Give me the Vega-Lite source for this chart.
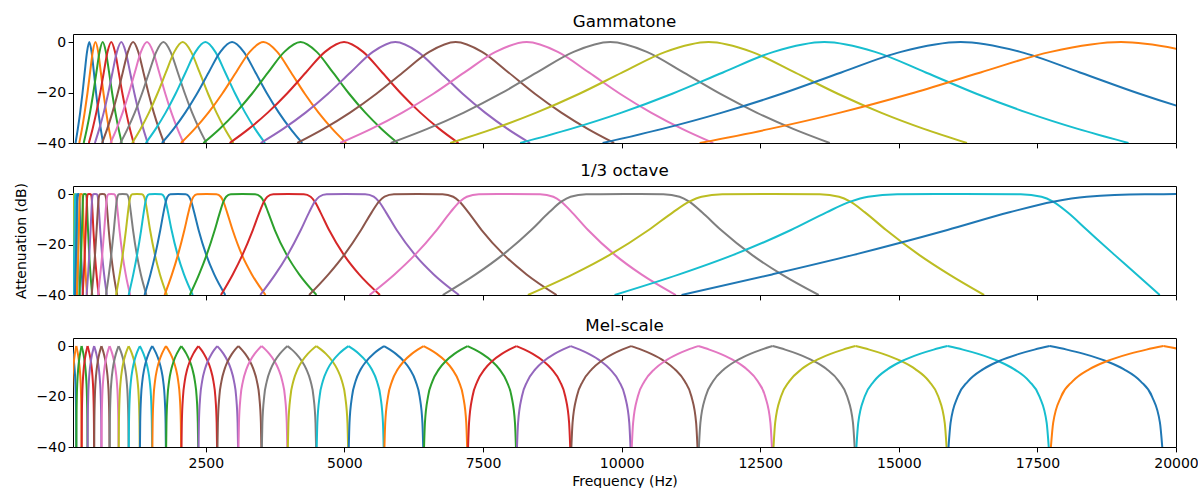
{
"$schema":"https://vega.github.io/schema/vega-lite/v6.json",
"background":"white",
"padding":{"left":13,"top":13,"right":0,"bottom":0},
"bounds":"flush",
"spacing":43,
"datasets":{
"g":[
{"c":1,"f":151,"y":-40},{"c":1,"f":192,"y":-34.41},{"c":1,"f":234,"y":-27.96},{"c":1,"f":275,"y":-20.48},{"c":1,"f":316,"y":-12.04},{"c":1,"f":358,"y":-3.88},{"c":1,"f":399,"y":0},{"c":1,"f":440,"y":-3.88},{"c":1,"f":482,"y":-12.04},{"c":1,"f":523,"y":-20.48},{"c":1,"f":564,"y":-27.96},{"c":1,"f":606,"y":-34.41},{"c":1,"f":647,"y":-40},
{"c":2,"f":218,"y":-40},{"c":2,"f":267,"y":-34.41},{"c":2,"f":315,"y":-27.96},{"c":2,"f":364,"y":-20.48},{"c":2,"f":413,"y":-12.04},{"c":2,"f":461,"y":-3.88},{"c":2,"f":510,"y":0},{"c":2,"f":559,"y":-3.88},{"c":2,"f":607,"y":-12.04},{"c":2,"f":656,"y":-20.48},{"c":2,"f":705,"y":-27.96},{"c":2,"f":753,"y":-34.41},{"c":2,"f":802,"y":-40},
{"c":3,"f":298,"y":-40},{"c":3,"f":355,"y":-34.41},{"c":3,"f":412,"y":-27.96},{"c":3,"f":469,"y":-20.48},{"c":3,"f":527,"y":-12.04},{"c":3,"f":584,"y":-3.88},{"c":3,"f":641,"y":0},{"c":3,"f":698,"y":-3.88},{"c":3,"f":756,"y":-12.04},{"c":3,"f":813,"y":-20.48},{"c":3,"f":870,"y":-27.96},{"c":3,"f":927,"y":-34.41},{"c":3,"f":985,"y":-40},
{"c":4,"f":391,"y":-40},{"c":4,"f":458,"y":-34.41},{"c":4,"f":525,"y":-27.96},{"c":4,"f":593,"y":-20.48},{"c":4,"f":660,"y":-12.04},{"c":4,"f":728,"y":-3.88},{"c":4,"f":795,"y":0},{"c":4,"f":862,"y":-3.88},{"c":4,"f":930,"y":-12.04},{"c":4,"f":997,"y":-20.48},{"c":4,"f":1065,"y":-27.96},{"c":4,"f":1132,"y":-34.41},{"c":4,"f":1199,"y":-40},
{"c":5,"f":500,"y":-40},{"c":5,"f":579,"y":-34.41},{"c":5,"f":659,"y":-27.96},{"c":5,"f":738,"y":-20.48},{"c":5,"f":817,"y":-12.04},{"c":5,"f":897,"y":-3.88},{"c":5,"f":976,"y":0},{"c":5,"f":1055,"y":-3.88},{"c":5,"f":1135,"y":-12.04},{"c":5,"f":1214,"y":-20.48},{"c":5,"f":1293,"y":-27.96},{"c":5,"f":1373,"y":-34.41},{"c":5,"f":1452,"y":-40},
{"c":6,"f":629,"y":-40},{"c":6,"f":722,"y":-34.41},{"c":6,"f":815,"y":-27.96},{"c":6,"f":909,"y":-20.48},{"c":6,"f":1002,"y":-12.04},{"c":6,"f":1096,"y":-3.88},{"c":6,"f":1189,"y":0},{"c":6,"f":1282,"y":-3.88},{"c":6,"f":1376,"y":-12.04},{"c":6,"f":1469,"y":-20.48},{"c":6,"f":1562,"y":-27.96},{"c":6,"f":1656,"y":-34.41},{"c":6,"f":1749,"y":-40},
{"c":7,"f":781,"y":-40},{"c":7,"f":891,"y":-34.41},{"c":7,"f":1000,"y":-27.96},{"c":7,"f":1110,"y":-20.48},{"c":7,"f":1220,"y":-12.04},{"c":7,"f":1330,"y":-3.88},{"c":7,"f":1440,"y":0},{"c":7,"f":1550,"y":-3.88},{"c":7,"f":1660,"y":-12.04},{"c":7,"f":1770,"y":-20.48},{"c":7,"f":1880,"y":-27.96},{"c":7,"f":1990,"y":-34.41},{"c":7,"f":2099,"y":-40},
{"c":8,"f":960,"y":-40},{"c":8,"f":1089,"y":-34.41},{"c":8,"f":1219,"y":-27.96},{"c":8,"f":1348,"y":-20.48},{"c":8,"f":1477,"y":-12.04},{"c":8,"f":1607,"y":-3.88},{"c":8,"f":1736,"y":0},{"c":8,"f":1865,"y":-3.88},{"c":8,"f":1995,"y":-12.04},{"c":8,"f":2124,"y":-20.48},{"c":8,"f":2253,"y":-27.96},{"c":8,"f":2383,"y":-34.41},{"c":8,"f":2512,"y":-40},
{"c":9,"f":1171,"y":-40},{"c":9,"f":1323,"y":-34.41},{"c":9,"f":1475,"y":-27.96},{"c":9,"f":1627,"y":-20.48},{"c":9,"f":1780,"y":-12.04},{"c":9,"f":1932,"y":-3.88},{"c":9,"f":2084,"y":0},{"c":9,"f":2236,"y":-3.88},{"c":9,"f":2389,"y":-12.04},{"c":9,"f":2541,"y":-20.48},{"c":9,"f":2693,"y":-27.96},{"c":9,"f":2845,"y":-34.41},{"c":9,"f":2998,"y":-40},
{"c":10,"f":1418,"y":-40},{"c":10,"f":1597,"y":-34.41},{"c":10,"f":1776,"y":-27.96},{"c":10,"f":1955,"y":-20.48},{"c":10,"f":2135,"y":-12.04},{"c":10,"f":2314,"y":-3.88},{"c":10,"f":2493,"y":0},{"c":10,"f":2672,"y":-3.88},{"c":10,"f":2851,"y":-12.04},{"c":10,"f":3031,"y":-20.48},{"c":10,"f":3210,"y":-27.96},{"c":10,"f":3389,"y":-34.41},{"c":10,"f":3568,"y":-40},
{"c":11,"f":1709,"y":-40},{"c":11,"f":1920,"y":-34.41},{"c":11,"f":2130,"y":-27.96},{"c":11,"f":2341,"y":-20.48},{"c":11,"f":2552,"y":-12.04},{"c":11,"f":2763,"y":-3.88},{"c":11,"f":2974,"y":0},{"c":11,"f":3185,"y":-3.88},{"c":11,"f":3396,"y":-12.04},{"c":11,"f":3607,"y":-20.48},{"c":11,"f":3818,"y":-27.96},{"c":11,"f":4029,"y":-34.41},{"c":11,"f":4239,"y":-40},
{"c":12,"f":2052,"y":-40},{"c":12,"f":2300,"y":-34.41},{"c":12,"f":2548,"y":-27.96},{"c":12,"f":2796,"y":-20.48},{"c":12,"f":3045,"y":-12.04},{"c":12,"f":3293,"y":-3.88},{"c":12,"f":3541,"y":0},{"c":12,"f":3789,"y":-3.88},{"c":12,"f":4038,"y":-12.04},{"c":12,"f":4286,"y":-20.48},{"c":12,"f":4534,"y":-27.96},{"c":12,"f":4782,"y":-34.41},{"c":12,"f":5031,"y":-40},
{"c":13,"f":2456,"y":-40},{"c":13,"f":2748,"y":-34.41},{"c":13,"f":3040,"y":-27.96},{"c":13,"f":3333,"y":-20.48},{"c":13,"f":3625,"y":-12.04},{"c":13,"f":3917,"y":-3.88},{"c":13,"f":4209,"y":0},{"c":13,"f":4501,"y":-3.88},{"c":13,"f":4793,"y":-12.04},{"c":13,"f":5086,"y":-20.48},{"c":13,"f":5378,"y":-27.96},{"c":13,"f":5670,"y":-34.41},{"c":13,"f":5962,"y":-40},
{"c":14,"f":2931,"y":-40},{"c":14,"f":3275,"y":-34.41},{"c":14,"f":3618,"y":-27.96},{"c":14,"f":3962,"y":-20.48},{"c":14,"f":4306,"y":-12.04},{"c":14,"f":4650,"y":-3.88},{"c":14,"f":4994,"y":0},{"c":14,"f":5338,"y":-3.88},{"c":14,"f":5682,"y":-12.04},{"c":14,"f":6026,"y":-20.48},{"c":14,"f":6370,"y":-27.96},{"c":14,"f":6713,"y":-34.41},{"c":14,"f":7057,"y":-40},
{"c":15,"f":3491,"y":-40},{"c":15,"f":3895,"y":-34.41},{"c":15,"f":4300,"y":-27.96},{"c":15,"f":4705,"y":-20.48},{"c":15,"f":5110,"y":-12.04},{"c":15,"f":5514,"y":-3.88},{"c":15,"f":5919,"y":0},{"c":15,"f":6324,"y":-3.88},{"c":15,"f":6729,"y":-12.04},{"c":15,"f":7133,"y":-20.48},{"c":15,"f":7538,"y":-27.96},{"c":15,"f":7943,"y":-34.41},{"c":15,"f":8348,"y":-40},
{"c":16,"f":4149,"y":-40},{"c":16,"f":4625,"y":-34.41},{"c":16,"f":5102,"y":-27.96},{"c":16,"f":5578,"y":-20.48},{"c":16,"f":6054,"y":-12.04},{"c":16,"f":6531,"y":-3.88},{"c":16,"f":7007,"y":0},{"c":16,"f":7483,"y":-3.88},{"c":16,"f":7960,"y":-12.04},{"c":16,"f":8436,"y":-20.48},{"c":16,"f":8913,"y":-27.96},{"c":16,"f":9389,"y":-34.41},{"c":16,"f":9865,"y":-40},
{"c":17,"f":4924,"y":-40},{"c":17,"f":5484,"y":-34.41},{"c":17,"f":6045,"y":-27.96},{"c":17,"f":6606,"y":-20.48},{"c":17,"f":7167,"y":-12.04},{"c":17,"f":7727,"y":-3.88},{"c":17,"f":8288,"y":0},{"c":17,"f":8849,"y":-3.88},{"c":17,"f":9410,"y":-12.04},{"c":17,"f":9970,"y":-20.48},{"c":17,"f":10531,"y":-27.96},{"c":17,"f":11092,"y":-34.41},{"c":17,"f":11653,"y":-40},
{"c":18,"f":5835,"y":-40},{"c":18,"f":6495,"y":-34.41},{"c":18,"f":7155,"y":-27.96},{"c":18,"f":7815,"y":-20.48},{"c":18,"f":8475,"y":-12.04},{"c":18,"f":9135,"y":-3.88},{"c":18,"f":9795,"y":0},{"c":18,"f":10455,"y":-3.88},{"c":18,"f":11115,"y":-12.04},{"c":18,"f":11775,"y":-20.48},{"c":18,"f":12435,"y":-27.96},{"c":18,"f":13095,"y":-34.41},{"c":18,"f":13755,"y":-40},
{"c":19,"f":6908,"y":-40},{"c":19,"f":7685,"y":-34.41},{"c":19,"f":8462,"y":-27.96},{"c":19,"f":9239,"y":-20.48},{"c":19,"f":10015,"y":-12.04},{"c":19,"f":10792,"y":-3.88},{"c":19,"f":11569,"y":0},{"c":19,"f":12346,"y":-3.88},{"c":19,"f":13123,"y":-12.04},{"c":19,"f":13899,"y":-20.48},{"c":19,"f":14676,"y":-27.96},{"c":19,"f":15453,"y":-34.41},{"c":19,"f":16230,"y":-40},
{"c":20,"f":8171,"y":-40},{"c":20,"f":9086,"y":-34.41},{"c":20,"f":10000,"y":-27.96},{"c":20,"f":10914,"y":-20.48},{"c":20,"f":11829,"y":-12.04},{"c":20,"f":12743,"y":-3.88},{"c":20,"f":13657,"y":0},{"c":20,"f":14571,"y":-3.88},{"c":20,"f":15486,"y":-12.04},{"c":20,"f":16400,"y":-20.48},{"c":20,"f":17314,"y":-27.96},{"c":20,"f":18229,"y":-34.41},{"c":20,"f":19143,"y":-40},
{"c":21,"f":9658,"y":-40},{"c":21,"f":10735,"y":-34.41},{"c":21,"f":11811,"y":-27.96},{"c":21,"f":12887,"y":-20.48},{"c":21,"f":13963,"y":-12.04},{"c":21,"f":15039,"y":-3.88},{"c":21,"f":16115,"y":0},{"c":21,"f":17191,"y":-3.88},{"c":21,"f":18267,"y":-12.04},{"c":21,"f":19343,"y":-20.48},{"c":21,"f":20419,"y":-27.96},{"c":21,"f":21496,"y":-34.41},{"c":21,"f":22572,"y":-40},
{"c":22,"f":11408,"y":-40},{"c":22,"f":12675,"y":-34.41},{"c":22,"f":13942,"y":-27.96},{"c":22,"f":15208,"y":-20.48},{"c":22,"f":16475,"y":-12.04},{"c":22,"f":17741,"y":-3.88},{"c":22,"f":19008,"y":0},{"c":22,"f":20275,"y":-3.88},{"c":22,"f":21541,"y":-12.04},{"c":22,"f":22808,"y":-20.48},{"c":22,"f":24075,"y":-27.96}
],
"o":[
{"c":7,"f":79.4,"y":0},{"c":7,"f":85.1,"y":-0.07},{"c":7,"f":87.6,"y":-1.05},{"c":7,"f":89.1,"y":-3.01},{"c":7,"f":91.2,"y":-7.24},{"c":7,"f":94.4,"y":-14.25},{"c":7,"f":99.9,"y":-24.1},{"c":7,"f":105.6,"y":-31.84},{"c":7,"f":113.5,"y":-40},
{"c":8,"f":70.0,"y":-40},{"c":8,"f":75.2,"y":-31.84},{"c":8,"f":79.6,"y":-24.1},{"c":8,"f":84.2,"y":-14.25},{"c":8,"f":87.1,"y":-7.24},{"c":8,"f":89.1,"y":-3.01},{"c":8,"f":90.7,"y":-1.05},{"c":8,"f":93.3,"y":-0.07},{"c":8,"f":100,"y":0},{"c":8,"f":107.2,"y":-0.07},{"c":8,"f":110.3,"y":-1.05},{"c":8,"f":112.2,"y":-3.01},{"c":8,"f":114.8,"y":-7.24},{"c":8,"f":118.8,"y":-14.25},{"c":8,"f":125.7,"y":-24.1},{"c":8,"f":132.9,"y":-31.84},{"c":8,"f":142.9,"y":-40},
{"c":9,"f":88.1,"y":-40},{"c":9,"f":94.7,"y":-31.84},{"c":9,"f":100.1,"y":-24.1},{"c":9,"f":106.0,"y":-14.25},{"c":9,"f":109.7,"y":-7.24},{"c":9,"f":112.2,"y":-3.01},{"c":9,"f":114.2,"y":-1.05},{"c":9,"f":117.5,"y":-0.07},{"c":9,"f":125.9,"y":0},{"c":9,"f":134.9,"y":-0.07},{"c":9,"f":138.8,"y":-1.05},{"c":9,"f":141.3,"y":-3.01},{"c":9,"f":144.5,"y":-7.24},{"c":9,"f":149.6,"y":-14.25},{"c":9,"f":158.3,"y":-24.1},{"c":9,"f":167.3,"y":-31.84},{"c":9,"f":179.9,"y":-40},
{"c":10,"f":110.9,"y":-40},{"c":10,"f":119.2,"y":-31.84},{"c":10,"f":126.1,"y":-24.1},{"c":10,"f":133.4,"y":-14.25},{"c":10,"f":138.1,"y":-7.24},{"c":10,"f":141.3,"y":-3.01},{"c":10,"f":143.7,"y":-1.05},{"c":10,"f":147.9,"y":-0.07},{"c":10,"f":158.5,"y":0},{"c":10,"f":169.8,"y":-0.07},{"c":10,"f":174.8,"y":-1.05},{"c":10,"f":177.8,"y":-3.01},{"c":10,"f":181.9,"y":-7.24},{"c":10,"f":188.3,"y":-14.25},{"c":10,"f":199.2,"y":-24.1},{"c":10,"f":210.7,"y":-31.84},{"c":10,"f":226.5,"y":-40},
{"c":11,"f":139.6,"y":-40},{"c":11,"f":150.1,"y":-31.84},{"c":11,"f":158.7,"y":-24.1},{"c":11,"f":168.0,"y":-14.25},{"c":11,"f":173.8,"y":-7.24},{"c":11,"f":177.8,"y":-3.01},{"c":11,"f":180.9,"y":-1.05},{"c":11,"f":186.2,"y":-0.07},{"c":11,"f":199.5,"y":0},{"c":11,"f":213.8,"y":-0.07},{"c":11,"f":220.1,"y":-1.05},{"c":11,"f":223.9,"y":-3.01},{"c":11,"f":229.1,"y":-7.24},{"c":11,"f":237.0,"y":-14.25},{"c":11,"f":250.8,"y":-24.1},{"c":11,"f":265.2,"y":-31.84},{"c":11,"f":285.2,"y":-40},
{"c":12,"f":175.7,"y":-40},{"c":12,"f":189.0,"y":-31.84},{"c":12,"f":199.8,"y":-24.1},{"c":12,"f":211.4,"y":-14.25},{"c":12,"f":218.8,"y":-7.24},{"c":12,"f":223.9,"y":-3.01},{"c":12,"f":227.8,"y":-1.05},{"c":12,"f":234.4,"y":-0.07},{"c":12,"f":251.2,"y":0},{"c":12,"f":269.2,"y":-0.07},{"c":12,"f":277.0,"y":-1.05},{"c":12,"f":281.8,"y":-3.01},{"c":12,"f":288.4,"y":-7.24},{"c":12,"f":298.4,"y":-14.25},{"c":12,"f":315.8,"y":-24.1},{"c":12,"f":333.9,"y":-31.84},{"c":12,"f":359.0,"y":-40},
{"c":13,"f":221.2,"y":-40},{"c":13,"f":237.9,"y":-31.84},{"c":13,"f":251.6,"y":-24.1},{"c":13,"f":266.2,"y":-14.25},{"c":13,"f":275.5,"y":-7.24},{"c":13,"f":281.8,"y":-3.01},{"c":13,"f":286.7,"y":-1.05},{"c":13,"f":295.1,"y":-0.07},{"c":13,"f":316.2,"y":0},{"c":13,"f":338.9,"y":-0.07},{"c":13,"f":348.8,"y":-1.05},{"c":13,"f":354.8,"y":-3.01},{"c":13,"f":363.0,"y":-7.24},{"c":13,"f":375.7,"y":-14.25},{"c":13,"f":397.5,"y":-24.1},{"c":13,"f":420.3,"y":-31.84},{"c":13,"f":452.0,"y":-40},
{"c":14,"f":278.5,"y":-40},{"c":14,"f":299.5,"y":-31.84},{"c":14,"f":316.7,"y":-24.1},{"c":14,"f":335.1,"y":-14.25},{"c":14,"f":346.8,"y":-7.24},{"c":14,"f":354.8,"y":-3.01},{"c":14,"f":361.0,"y":-1.05},{"c":14,"f":371.5,"y":-0.07},{"c":14,"f":398.1,"y":0},{"c":14,"f":426.6,"y":-0.07},{"c":14,"f":439.1,"y":-1.05},{"c":14,"f":446.7,"y":-3.01},{"c":14,"f":457.0,"y":-7.24},{"c":14,"f":472.9,"y":-14.25},{"c":14,"f":500.4,"y":-24.1},{"c":14,"f":529.2,"y":-31.84},{"c":14,"f":569.0,"y":-40},
{"c":15,"f":350.6,"y":-40},{"c":15,"f":377.0,"y":-31.84},{"c":15,"f":398.7,"y":-24.1},{"c":15,"f":421.9,"y":-14.25},{"c":15,"f":436.6,"y":-7.24},{"c":15,"f":446.7,"y":-3.01},{"c":15,"f":454.4,"y":-1.05},{"c":15,"f":467.7,"y":-0.07},{"c":15,"f":501.2,"y":0},{"c":15,"f":537.1,"y":-0.07},{"c":15,"f":552.7,"y":-1.05},{"c":15,"f":562.3,"y":-3.01},{"c":15,"f":575.4,"y":-7.24},{"c":15,"f":595.4,"y":-14.25},{"c":15,"f":630.0,"y":-24.1},{"c":15,"f":666.2,"y":-31.84},{"c":15,"f":716.4,"y":-40},
{"c":16,"f":441.4,"y":-40},{"c":16,"f":474.7,"y":-31.84},{"c":16,"f":501.9,"y":-24.1},{"c":16,"f":531.1,"y":-14.25},{"c":16,"f":549.6,"y":-7.24},{"c":16,"f":562.3,"y":-3.01},{"c":16,"f":572.1,"y":-1.05},{"c":16,"f":588.8,"y":-0.07},{"c":16,"f":631.0,"y":0},{"c":16,"f":676.1,"y":-0.07},{"c":16,"f":695.9,"y":-1.05},{"c":16,"f":707.9,"y":-3.01},{"c":16,"f":724.3,"y":-7.24},{"c":16,"f":749.5,"y":-14.25},{"c":16,"f":793.1,"y":-24.1},{"c":16,"f":838.7,"y":-31.84},{"c":16,"f":901.9,"y":-40},
{"c":17,"f":555.7,"y":-40},{"c":17,"f":597.6,"y":-31.84},{"c":17,"f":631.9,"y":-24.1},{"c":17,"f":668.7,"y":-14.25},{"c":17,"f":691.9,"y":-7.24},{"c":17,"f":707.9,"y":-3.01},{"c":17,"f":720.2,"y":-1.05},{"c":17,"f":741.2,"y":-0.07},{"c":17,"f":794.3,"y":0},{"c":17,"f":851.2,"y":-0.07},{"c":17,"f":876.0,"y":-1.05},{"c":17,"f":891.3,"y":-3.01},{"c":17,"f":911.9,"y":-7.24},{"c":17,"f":943.6,"y":-14.25},{"c":17,"f":998.5,"y":-24.1},{"c":17,"f":1055.8,"y":-31.84},{"c":17,"f":1135.4,"y":-40},
{"c":18,"f":699.6,"y":-40},{"c":18,"f":752.3,"y":-31.84},{"c":18,"f":795.5,"y":-24.1},{"c":18,"f":841.8,"y":-14.25},{"c":18,"f":871.1,"y":-7.24},{"c":18,"f":891.3,"y":-3.01},{"c":18,"f":906.7,"y":-1.05},{"c":18,"f":933.2,"y":-0.07},{"c":18,"f":1000,"y":0},{"c":18,"f":1071.6,"y":-0.07},{"c":18,"f":1102.9,"y":-1.05},{"c":18,"f":1122.0,"y":-3.01},{"c":18,"f":1148.0,"y":-7.24},{"c":18,"f":1187.9,"y":-14.25},{"c":18,"f":1257.1,"y":-24.1},{"c":18,"f":1329.2,"y":-31.84},{"c":18,"f":1429.4,"y":-40},
{"c":19,"f":880.7,"y":-40},{"c":19,"f":947.1,"y":-31.84},{"c":19,"f":1001.5,"y":-24.1},{"c":19,"f":1059.8,"y":-14.25},{"c":19,"f":1096.6,"y":-7.24},{"c":19,"f":1122.0,"y":-3.01},{"c":19,"f":1141.5,"y":-1.05},{"c":19,"f":1174.8,"y":-0.07},{"c":19,"f":1258.9,"y":0},{"c":19,"f":1349.1,"y":-0.07},{"c":19,"f":1388.4,"y":-1.05},{"c":19,"f":1412.5,"y":-3.01},{"c":19,"f":1445.3,"y":-7.24},{"c":19,"f":1495.5,"y":-14.25},{"c":19,"f":1582.5,"y":-24.1},{"c":19,"f":1673.4,"y":-31.84},{"c":19,"f":1799.5,"y":-40},
{"c":20,"f":1108.8,"y":-40},{"c":20,"f":1192.3,"y":-31.84},{"c":20,"f":1260.8,"y":-24.1},{"c":20,"f":1334.2,"y":-14.25},{"c":20,"f":1380.6,"y":-7.24},{"c":20,"f":1412.5,"y":-3.01},{"c":20,"f":1437.1,"y":-1.05},{"c":20,"f":1479.0,"y":-0.07},{"c":20,"f":1584.9,"y":0},{"c":20,"f":1698.4,"y":-0.07},{"c":20,"f":1747.9,"y":-1.05},{"c":20,"f":1778.3,"y":-3.01},{"c":20,"f":1819.5,"y":-7.24},{"c":20,"f":1882.8,"y":-14.25},{"c":20,"f":1992.3,"y":-24.1},{"c":20,"f":2106.7,"y":-31.84},{"c":20,"f":2265.4,"y":-40},
{"c":21,"f":1395.9,"y":-40},{"c":21,"f":1501.1,"y":-31.84},{"c":21,"f":1587.3,"y":-24.1},{"c":21,"f":1679.6,"y":-14.25},{"c":21,"f":1738.0,"y":-7.24},{"c":21,"f":1778.3,"y":-3.01},{"c":21,"f":1809.1,"y":-1.05},{"c":21,"f":1861.9,"y":-0.07},{"c":21,"f":1995.3,"y":0},{"c":21,"f":2138.2,"y":-0.07},{"c":21,"f":2200.5,"y":-1.05},{"c":21,"f":2238.7,"y":-3.01},{"c":21,"f":2290.6,"y":-7.24},{"c":21,"f":2370.3,"y":-14.25},{"c":21,"f":2508.2,"y":-24.1},{"c":21,"f":2652.2,"y":-31.84},{"c":21,"f":2852.0,"y":-40},
{"c":22,"f":1757.3,"y":-40},{"c":22,"f":1889.7,"y":-31.84},{"c":22,"f":1998.2,"y":-24.1},{"c":22,"f":2114.5,"y":-14.25},{"c":22,"f":2188.1,"y":-7.24},{"c":22,"f":2238.7,"y":-3.01},{"c":22,"f":2277.6,"y":-1.05},{"c":22,"f":2344.0,"y":-0.07},{"c":22,"f":2511.9,"y":0},{"c":22,"f":2691.8,"y":-0.07},{"c":22,"f":2770.3,"y":-1.05},{"c":22,"f":2818.4,"y":-3.01},{"c":22,"f":2883.7,"y":-7.24},{"c":22,"f":2984.0,"y":-14.25},{"c":22,"f":3152,"y":-24.1},{"c":22,"f":3331,"y":-31.84},{"c":22,"f":3578,"y":-40},
{"c":23,"f":2212.3,"y":-40},{"c":23,"f":2379.0,"y":-31.84},{"c":23,"f":2515.6,"y":-24.1},{"c":23,"f":2662.0,"y":-14.25},{"c":23,"f":2754.6,"y":-7.24},{"c":23,"f":2818.4,"y":-3.01},{"c":23,"f":2867.3,"y":-1.05},{"c":23,"f":2950.9,"y":-0.07},{"c":23,"f":3162.3,"y":0},{"c":23,"f":3388.8,"y":-0.07},{"c":23,"f":3487.6,"y":-1.05},{"c":23,"f":3548.1,"y":-3.01},{"c":23,"f":3625,"y":-7.24},{"c":23,"f":3745,"y":-14.25},{"c":23,"f":3960,"y":-24.1},{"c":23,"f":4185,"y":-31.84},{"c":23,"f":4497,"y":-40},
{"c":24,"f":2773.1,"y":-40},{"c":24,"f":2986.6,"y":-31.84},{"c":24,"f":3161.5,"y":-24.1},{"c":24,"f":3348.6,"y":-14.25},{"c":24,"f":3466.9,"y":-7.24},{"c":24,"f":3548.1,"y":-3.01},{"c":24,"f":3610.4,"y":-1.05},{"c":24,"f":3716.6,"y":-0.07},{"c":24,"f":3984.0,"y":0},{"c":24,"f":4268.3,"y":-0.07},{"c":24,"f":4391.6,"y":-1.05},{"c":24,"f":4466.8,"y":-3.01},{"c":24,"f":4568.6,"y":-7.24},{"c":24,"f":4724.3,"y":-14.25},{"c":24,"f":4991.1,"y":-24.1},{"c":24,"f":5266.4,"y":-31.84},{"c":24,"f":5641.9,"y":-40},
{"c":25,"f":3481.9,"y":-40},{"c":25,"f":3753.6,"y":-31.84},{"c":25,"f":3976.1,"y":-24.1},{"c":25,"f":4213.8,"y":-14.25},{"c":25,"f":4363.9,"y":-7.24},{"c":25,"f":4466.8,"y":-3.01},{"c":25,"f":4545.7,"y":-1.05},{"c":25,"f":4680.2,"y":-0.07},{"c":25,"f":5017.7,"y":0},{"c":25,"f":5375.1,"y":-0.07},{"c":25,"f":5529.4,"y":-1.05},{"c":25,"f":5623.4,"y":-3.01},{"c":25,"f":5750.3,"y":-7.24},{"c":25,"f":5943.8,"y":-14.25},{"c":25,"f":6273.8,"y":-24.1},{"c":25,"f":6611.5,"y":-31.84},{"c":25,"f":7067.6,"y":-40},
{"c":26,"f":4364.2,"y":-40},{"c":26,"f":4712.2,"y":-31.84},{"c":26,"f":4996.8,"y":-24.1},{"c":26,"f":5300.8,"y":-14.25},{"c":26,"f":5492.1,"y":-7.24},{"c":26,"f":5623.4,"y":-3.01},{"c":26,"f":5723.8,"y":-1.05},{"c":26,"f":5894.6,"y":-0.07},{"c":26,"f":6321.6,"y":0},{"c":26,"f":6770.2,"y":-0.07},{"c":26,"f":6962.6,"y":-1.05},{"c":26,"f":7079.5,"y":-3.01},{"c":26,"f":7236.6,"y":-7.24},{"c":26,"f":7475.0,"y":-14.25},{"c":26,"f":7878.4,"y":-24.1},{"c":26,"f":8286.0,"y":-31.84},{"c":26,"f":8828.3,"y":-40},
{"c":27,"f":5453.3,"y":-40},{"c":27,"f":5903.7,"y":-31.84},{"c":27,"f":6272.3,"y":-24.1},{"c":27,"f":6664.5,"y":-14.25},{"c":27,"f":6911.0,"y":-7.24},{"c":27,"f":7079.5,"y":-3.01},{"c":27,"f":7208.2,"y":-1.05},{"c":27,"f":7426.4,"y":-0.07},{"c":27,"f":7968.3,"y":0},{"c":27,"f":8530.3,"y":-0.07},{"c":27,"f":8768.7,"y":-1.05},{"c":27,"f":8912.5,"y":-3.01},{"c":27,"f":9105.1,"y":-7.24},{"c":27,"f":9395.0,"y":-14.25},{"c":27,"f":9877.9,"y":-24.1},{"c":27,"f":10357.0,"y":-31.84},{"c":27,"f":10978.8,"y":-40},
{"c":28,"f":6774.1,"y":-40},{"c":28,"f":7368.4,"y":-31.84},{"c":28,"f":7854.6,"y":-24.1},{"c":28,"f":8370.4,"y":-14.25},{"c":28,"f":8693.1,"y":-7.24},{"c":28,"f":8912.5,"y":-3.01},{"c":28,"f":9079.6,"y":-1.05},{"c":28,"f":9361.8,"y":-0.07},{"c":28,"f":10053.2,"y":0},{"c":28,"f":10754.2,"y":-0.07},{"c":28,"f":11045.9,"y":-1.05},{"c":28,"f":11220.2,"y":-3.01},{"c":28,"f":11451.1,"y":-7.24},{"c":28,"f":11793.8,"y":-14.25},{"c":28,"f":12351.3,"y":-24.1},{"c":28,"f":12887.0,"y":-31.84},{"c":28,"f":13555.9,"y":-40},
{"c":29,"f":8310.3,"y":-40},{"c":29,"f":9120.5,"y":-31.84},{"c":29,"f":9785.3,"y":-24.1},{"c":29,"f":10488.6,"y":-14.25},{"c":29,"f":10925.0,"y":-7.24},{"c":29,"f":11220.2,"y":-3.01},{"c":29,"f":11443.1,"y":-1.05},{"c":29,"f":11816.4,"y":-0.07},{"c":29,"f":12709.4,"y":0},{"c":29,"f":13575.5,"y":-0.07},{"c":29,"f":13922.3,"y":-1.05},{"c":29,"f":14125.4,"y":-3.01},{"c":29,"f":14389.9,"y":-7.24},{"c":29,"f":14771.7,"y":-14.25},{"c":29,"f":15366.2,"y":-24.1},{"c":29,"f":15905.9,"y":-31.84},{"c":29,"f":16537.9,"y":-40},
{"c":30,"f":9873.8,"y":-40},{"c":30,"f":11039.0,"y":-31.84},{"c":30,"f":12015.1,"y":-24.1},{"c":30,"f":13055.1,"y":-14.25},{"c":30,"f":13696.4,"y":-7.24},{"c":30,"f":14125.4,"y":-3.01},{"c":30,"f":14445.6,"y":-1.05},{"c":30,"f":14972.2,"y":-0.07},{"c":30,"f":16164.3,"y":0},{"c":30,"f":17198.9,"y":-0.07},{"c":30,"f":17574.0,"y":-1.05},{"c":30,"f":17782.8,"y":-3.01},{"c":30,"f":18042.9,"y":-7.24},{"c":30,"f":18395.4,"y":-14.25},{"c":30,"f":18891.6,"y":-24.1},{"c":30,"f":19291.6,"y":-31.84},{"c":30,"f":19706.7,"y":-40},
{"c":31,"f":11081.5,"y":-40},{"c":31,"f":12714.4,"y":-31.84},{"c":31,"f":14184.6,"y":-24.1},{"c":31,"f":15876.2,"y":-14.25},{"c":31,"f":16996.1,"y":-7.24},{"c":31,"f":17782.8,"y":-3.01},{"c":31,"f":18392.0,"y":-1.05},{"c":31,"f":19438.2,"y":-0.07},{"c":31,"f":20297.5,"y":0}
],
"m":[
{"c":1,"s":1,"f":77.9,"y":0},{"c":1,"s":1,"f":90.9,"y":-1.41},{"c":1,"s":1,"f":103.8,"y":-3.1},{"c":1,"s":1,"f":121.2,"y":-6.02},{"c":1,"s":1,"f":134.1,"y":-9.12},{"c":1,"s":1,"f":147.1,"y":-13.98},{"c":1,"s":1,"f":155.8,"y":-20},{"c":1,"s":1,"f":161.8,"y":-30.46},{"c":1,"s":1,"f":163.6,"y":-40},
{"c":2,"s":0,"f":78.8,"y":-40},{"c":2,"s":0,"f":80.5,"y":-30.46},{"c":2,"s":0,"f":86.5,"y":-20},{"c":2,"s":0,"f":95.2,"y":-13.98},{"c":2,"s":0,"f":108.2,"y":-9.12},{"c":2,"s":0,"f":121.2,"y":-6.02},{"c":2,"s":0,"f":138.5,"y":-3.1},{"c":2,"s":0,"f":151.5,"y":-1.41},{"c":2,"s":0,"f":164.4,"y":0},
{"c":2,"s":1,"f":164.4,"y":0},{"c":2,"s":1,"f":178.9,"y":-1.41},{"c":2,"s":1,"f":193.3,"y":-3.1},{"c":2,"s":1,"f":212.5,"y":-6.02},{"c":2,"s":1,"f":226.9,"y":-9.12},{"c":2,"s":1,"f":241.4,"y":-13.98},{"c":2,"s":1,"f":251.0,"y":-20},{"c":2,"s":1,"f":257.7,"y":-30.46},{"c":2,"s":1,"f":259.6,"y":-40},
{"c":3,"s":0,"f":165.4,"y":-40},{"c":3,"s":0,"f":167.3,"y":-30.46},{"c":3,"s":0,"f":174.1,"y":-20},{"c":3,"s":0,"f":183.7,"y":-13.98},{"c":3,"s":0,"f":198.1,"y":-9.12},{"c":3,"s":0,"f":212.5,"y":-6.02},{"c":3,"s":0,"f":231.8,"y":-3.1},{"c":3,"s":0,"f":246.2,"y":-1.41},{"c":3,"s":0,"f":260.6,"y":0},
{"c":3,"s":1,"f":260.6,"y":0},{"c":3,"s":1,"f":276.6,"y":-1.41},{"c":3,"s":1,"f":292.7,"y":-3.1},{"c":3,"s":1,"f":314.0,"y":-6.02},{"c":3,"s":1,"f":330.1,"y":-9.12},{"c":3,"s":1,"f":346.1,"y":-13.98},{"c":3,"s":1,"f":356.8,"y":-20},{"c":3,"s":1,"f":364.3,"y":-30.46},{"c":3,"s":1,"f":366.4,"y":-40},
{"c":4,"s":0,"f":261.7,"y":-40},{"c":4,"s":0,"f":263.8,"y":-30.46},{"c":4,"s":0,"f":271.3,"y":-20},{"c":4,"s":0,"f":282.0,"y":-13.98},{"c":4,"s":0,"f":298.0,"y":-9.12},{"c":4,"s":0,"f":314.0,"y":-6.02},{"c":4,"s":0,"f":335.4,"y":-3.1},{"c":4,"s":0,"f":351.4,"y":-1.41},{"c":4,"s":0,"f":367.5,"y":0},
{"c":4,"s":1,"f":367.5,"y":0},{"c":4,"s":1,"f":385.3,"y":-1.41},{"c":4,"s":1,"f":403.1,"y":-3.1},{"c":4,"s":1,"f":426.9,"y":-6.02},{"c":4,"s":1,"f":444.7,"y":-9.12},{"c":4,"s":1,"f":462.5,"y":-13.98},{"c":4,"s":1,"f":474.4,"y":-20},{"c":4,"s":1,"f":482.7,"y":-30.46},{"c":4,"s":1,"f":485.1,"y":-40},
{"c":5,"s":0,"f":368.7,"y":-40},{"c":5,"s":0,"f":371.0,"y":-30.46},{"c":5,"s":0,"f":379.4,"y":-20},{"c":5,"s":0,"f":391.2,"y":-13.98},{"c":5,"s":0,"f":409.0,"y":-9.12},{"c":5,"s":0,"f":426.9,"y":-6.02},{"c":5,"s":0,"f":450.6,"y":-3.1},{"c":5,"s":0,"f":468.4,"y":-1.41},{"c":5,"s":0,"f":486.2,"y":0},
{"c":5,"s":1,"f":486.2,"y":0},{"c":5,"s":1,"f":506.0,"y":-1.41},{"c":5,"s":1,"f":525.8,"y":-3.1},{"c":5,"s":1,"f":552.2,"y":-6.02},{"c":5,"s":1,"f":572.0,"y":-9.12},{"c":5,"s":1,"f":591.8,"y":-13.98},{"c":5,"s":1,"f":605.0,"y":-20},{"c":5,"s":1,"f":614.3,"y":-30.46},{"c":5,"s":1,"f":616.9,"y":-40},
{"c":6,"s":0,"f":487.6,"y":-40},{"c":6,"s":0,"f":490.2,"y":-30.46},{"c":6,"s":0,"f":499.4,"y":-20},{"c":6,"s":0,"f":512.6,"y":-13.98},{"c":6,"s":0,"f":532.4,"y":-9.12},{"c":6,"s":0,"f":552.2,"y":-6.02},{"c":6,"s":0,"f":578.6,"y":-3.1},{"c":6,"s":0,"f":598.4,"y":-1.41},{"c":6,"s":0,"f":618.2,"y":0},
{"c":6,"s":1,"f":618.2,"y":0},{"c":6,"s":1,"f":640.2,"y":-1.41},{"c":6,"s":1,"f":662.2,"y":-3.1},{"c":6,"s":1,"f":691.6,"y":-6.02},{"c":6,"s":1,"f":713.6,"y":-9.12},{"c":6,"s":1,"f":735.6,"y":-13.98},{"c":6,"s":1,"f":750.2,"y":-20},{"c":6,"s":1,"f":760.5,"y":-30.46},{"c":6,"s":1,"f":763.4,"y":-40},
{"c":7,"s":0,"f":619.7,"y":-40},{"c":7,"s":0,"f":622.6,"y":-30.46},{"c":7,"s":0,"f":632.9,"y":-20},{"c":7,"s":0,"f":647.6,"y":-13.98},{"c":7,"s":0,"f":669.6,"y":-9.12},{"c":7,"s":0,"f":691.6,"y":-6.02},{"c":7,"s":0,"f":720.9,"y":-3.1},{"c":7,"s":0,"f":742.9,"y":-1.41},{"c":7,"s":0,"f":764.9,"y":0},
{"c":7,"s":1,"f":764.9,"y":0},{"c":7,"s":1,"f":789.3,"y":-1.41},{"c":7,"s":1,"f":813.8,"y":-3.1},{"c":7,"s":1,"f":846.4,"y":-6.02},{"c":7,"s":1,"f":870.8,"y":-9.12},{"c":7,"s":1,"f":895.3,"y":-13.98},{"c":7,"s":1,"f":911.6,"y":-20},{"c":7,"s":1,"f":923.0,"y":-30.46},{"c":7,"s":1,"f":926.2,"y":-40},
{"c":8,"s":0,"f":766.5,"y":-40},{"c":8,"s":0,"f":769.8,"y":-30.46},{"c":8,"s":0,"f":781.2,"y":-20},{"c":8,"s":0,"f":797.5,"y":-13.98},{"c":8,"s":0,"f":821.9,"y":-9.12},{"c":8,"s":0,"f":846.4,"y":-6.02},{"c":8,"s":0,"f":879.0,"y":-3.1},{"c":8,"s":0,"f":903.4,"y":-1.41},{"c":8,"s":0,"f":927.9,"y":0},
{"c":8,"s":1,"f":927.9,"y":0},{"c":8,"s":1,"f":955.0,"y":-1.41},{"c":8,"s":1,"f":982.2,"y":-3.1},{"c":8,"s":1,"f":1018.4,"y":-6.02},{"c":8,"s":1,"f":1045.6,"y":-9.12},{"c":8,"s":1,"f":1072.8,"y":-13.98},{"c":8,"s":1,"f":1090.9,"y":-20},{"c":8,"s":1,"f":1103.5,"y":-30.46},{"c":8,"s":1,"f":1107.2,"y":-40},
{"c":9,"s":0,"f":929.7,"y":-40},{"c":9,"s":0,"f":933.3,"y":-30.46},{"c":9,"s":0,"f":946.0,"y":-20},{"c":9,"s":0,"f":964.1,"y":-13.98},{"c":9,"s":0,"f":991.3,"y":-9.12},{"c":9,"s":0,"f":1018.4,"y":-6.02},{"c":9,"s":0,"f":1054.6,"y":-3.1},{"c":9,"s":0,"f":1081.8,"y":-1.41},{"c":9,"s":0,"f":1109.0,"y":0},
{"c":9,"s":1,"f":1109.0,"y":0},{"c":9,"s":1,"f":1139.2,"y":-1.41},{"c":9,"s":1,"f":1169.4,"y":-3.1},{"c":9,"s":1,"f":1209.6,"y":-6.02},{"c":9,"s":1,"f":1239.8,"y":-9.12},{"c":9,"s":1,"f":1270.0,"y":-13.98},{"c":9,"s":1,"f":1290.1,"y":-20},{"c":9,"s":1,"f":1304.2,"y":-30.46},{"c":9,"s":1,"f":1308.2,"y":-40},
{"c":10,"s":0,"f":1111.0,"y":-40},{"c":10,"s":0,"f":1115.0,"y":-30.46},{"c":10,"s":0,"f":1129.1,"y":-20},{"c":10,"s":0,"f":1149.2,"y":-13.98},{"c":10,"s":0,"f":1179.4,"y":-9.12},{"c":10,"s":0,"f":1209.6,"y":-6.02},{"c":10,"s":0,"f":1249.9,"y":-3.1},{"c":10,"s":0,"f":1280.1,"y":-1.41},{"c":10,"s":0,"f":1310.2,"y":0},
{"c":10,"s":1,"f":1310.2,"y":0},{"c":10,"s":1,"f":1343.8,"y":-1.41},{"c":10,"s":1,"f":1377.3,"y":-3.1},{"c":10,"s":1,"f":1422.1,"y":-6.02},{"c":10,"s":1,"f":1455.6,"y":-9.12},{"c":10,"s":1,"f":1489.2,"y":-13.98},{"c":10,"s":1,"f":1511.5,"y":-20},{"c":10,"s":1,"f":1527.2,"y":-30.46},{"c":10,"s":1,"f":1531.7,"y":-40},
{"c":11,"s":0,"f":1312.5,"y":-40},{"c":11,"s":0,"f":1317.0,"y":-30.46},{"c":11,"s":0,"f":1332.6,"y":-20},{"c":11,"s":0,"f":1355.0,"y":-13.98},{"c":11,"s":0,"f":1388.5,"y":-9.12},{"c":11,"s":0,"f":1422.1,"y":-6.02},{"c":11,"s":0,"f":1466.8,"y":-3.1},{"c":11,"s":0,"f":1500.3,"y":-1.41},{"c":11,"s":0,"f":1533.9,"y":0},
{"c":11,"s":1,"f":1533.9,"y":0},{"c":11,"s":1,"f":1571.2,"y":-1.41},{"c":11,"s":1,"f":1608.5,"y":-3.1},{"c":11,"s":1,"f":1658.2,"y":-6.02},{"c":11,"s":1,"f":1695.4,"y":-9.12},{"c":11,"s":1,"f":1732.7,"y":-13.98},{"c":11,"s":1,"f":1757.6,"y":-20},{"c":11,"s":1,"f":1775.0,"y":-30.46},{"c":11,"s":1,"f":1779.9,"y":-40},
{"c":12,"s":0,"f":1536.4,"y":-40},{"c":12,"s":0,"f":1541.4,"y":-30.46},{"c":12,"s":0,"f":1558.7,"y":-20},{"c":12,"s":0,"f":1583.6,"y":-13.98},{"c":12,"s":0,"f":1620.9,"y":-9.12},{"c":12,"s":0,"f":1658.2,"y":-6.02},{"c":12,"s":0,"f":1707.9,"y":-3.1},{"c":12,"s":0,"f":1745.2,"y":-1.41},{"c":12,"s":0,"f":1782.4,"y":0},
{"c":12,"s":1,"f":1782.4,"y":0},{"c":12,"s":1,"f":1823.9,"y":-1.41},{"c":12,"s":1,"f":1865.3,"y":-3.1},{"c":12,"s":1,"f":1920.5,"y":-6.02},{"c":12,"s":1,"f":1962.0,"y":-9.12},{"c":12,"s":1,"f":2003.4,"y":-13.98},{"c":12,"s":1,"f":2031.0,"y":-20},{"c":12,"s":1,"f":2050.3,"y":-30.46},{"c":12,"s":1,"f":2055.9,"y":-40},
{"c":13,"s":0,"f":1785.2,"y":-40},{"c":13,"s":0,"f":1790.7,"y":-30.46},{"c":13,"s":0,"f":1810.1,"y":-20},{"c":13,"s":0,"f":1837.7,"y":-13.98},{"c":13,"s":0,"f":1879.1,"y":-9.12},{"c":13,"s":0,"f":1920.5,"y":-6.02},{"c":13,"s":0,"f":1975.8,"y":-3.1},{"c":13,"s":0,"f":2017.2,"y":-1.41},{"c":13,"s":0,"f":2058.6,"y":0},
{"c":13,"s":1,"f":2058.6,"y":0},{"c":13,"s":1,"f":2104.7,"y":-1.41},{"c":13,"s":1,"f":2150.7,"y":-3.1},{"c":13,"s":1,"f":2212.1,"y":-6.02},{"c":13,"s":1,"f":2258.1,"y":-9.12},{"c":13,"s":1,"f":2304.2,"y":-13.98},{"c":13,"s":1,"f":2334.8,"y":-20},{"c":13,"s":1,"f":2356.3,"y":-30.46},{"c":13,"s":1,"f":2362.5,"y":-40},
{"c":14,"s":0,"f":2061.7,"y":-40},{"c":14,"s":0,"f":2067.8,"y":-30.46},{"c":14,"s":0,"f":2089.3,"y":-20},{"c":14,"s":0,"f":2120.0,"y":-13.98},{"c":14,"s":0,"f":2166.0,"y":-9.12},{"c":14,"s":0,"f":2212.1,"y":-6.02},{"c":14,"s":0,"f":2273.5,"y":-3.1},{"c":14,"s":0,"f":2319.5,"y":-1.41},{"c":14,"s":0,"f":2365.5,"y":0},
{"c":14,"s":1,"f":2365.5,"y":0},{"c":14,"s":1,"f":2416.7,"y":-1.41},{"c":14,"s":1,"f":2467.9,"y":-3.1},{"c":14,"s":1,"f":2536.1,"y":-6.02},{"c":14,"s":1,"f":2587.2,"y":-9.12},{"c":14,"s":1,"f":2638.4,"y":-13.98},{"c":14,"s":1,"f":2672.5,"y":-20},{"c":14,"s":1,"f":2696.4,"y":-30.46},{"c":14,"s":1,"f":2703.2,"y":-40},
{"c":15,"s":0,"f":2368.9,"y":-40},{"c":15,"s":0,"f":2375.8,"y":-30.46},{"c":15,"s":0,"f":2399.6,"y":-20},{"c":15,"s":0,"f":2433.7,"y":-13.98},{"c":15,"s":0,"f":2484.9,"y":-9.12},{"c":15,"s":0,"f":2536.1,"y":-6.02},{"c":15,"s":0,"f":2604.3,"y":-3.1},{"c":15,"s":0,"f":2655.4,"y":-1.41},{"c":15,"s":0,"f":2706.6,"y":0},
{"c":15,"s":1,"f":2706.6,"y":0},{"c":15,"s":1,"f":2763.5,"y":-1.41},{"c":15,"s":1,"f":2820.3,"y":-3.1},{"c":15,"s":1,"f":2896.1,"y":-6.02},{"c":15,"s":1,"f":2953.0,"y":-9.12},{"c":15,"s":1,"f":3009.8,"y":-13.98},{"c":15,"s":1,"f":3047.7,"y":-20},{"c":15,"s":1,"f":3074.2,"y":-30.46},{"c":15,"s":1,"f":3081.8,"y":-40},
{"c":16,"s":0,"f":2710.4,"y":-40},{"c":16,"s":0,"f":2718.0,"y":-30.46},{"c":16,"s":0,"f":2744.5,"y":-20},{"c":16,"s":0,"f":2782.4,"y":-13.98},{"c":16,"s":0,"f":2839.3,"y":-9.12},{"c":16,"s":0,"f":2896.1,"y":-6.02},{"c":16,"s":0,"f":2971.9,"y":-3.1},{"c":16,"s":0,"f":3028.8,"y":-1.41},{"c":16,"s":0,"f":3085.6,"y":0},
{"c":16,"s":1,"f":3085.6,"y":0},{"c":16,"s":1,"f":3148.8,"y":-1.41},{"c":16,"s":1,"f":3212.0,"y":-3.1},{"c":16,"s":1,"f":3296.2,"y":-6.02},{"c":16,"s":1,"f":3359.4,"y":-9.12},{"c":16,"s":1,"f":3422.6,"y":-13.98},{"c":16,"s":1,"f":3464.7,"y":-20},{"c":16,"s":1,"f":3494.2,"y":-30.46},{"c":16,"s":1,"f":3502.6,"y":-40},
{"c":17,"s":0,"f":3089.8,"y":-40},{"c":17,"s":0,"f":3098.3,"y":-30.46},{"c":17,"s":0,"f":3127.7,"y":-20},{"c":17,"s":0,"f":3169.9,"y":-13.98},{"c":17,"s":0,"f":3233.0,"y":-9.12},{"c":17,"s":0,"f":3296.2,"y":-6.02},{"c":17,"s":0,"f":3380.4,"y":-3.1},{"c":17,"s":0,"f":3443.6,"y":-1.41},{"c":17,"s":0,"f":3506.8,"y":0},
{"c":17,"s":1,"f":3506.8,"y":0},{"c":17,"s":1,"f":3577.0,"y":-1.41},{"c":17,"s":1,"f":3647.2,"y":-3.1},{"c":17,"s":1,"f":3740.8,"y":-6.02},{"c":17,"s":1,"f":3811.0,"y":-9.12},{"c":17,"s":1,"f":3881.2,"y":-13.98},{"c":17,"s":1,"f":3928.0,"y":-20},{"c":17,"s":1,"f":3960.8,"y":-30.46},{"c":17,"s":1,"f":3970.2,"y":-40},
{"c":18,"s":0,"f":3511.5,"y":-40},{"c":18,"s":0,"f":3520.8,"y":-30.46},{"c":18,"s":0,"f":3553.6,"y":-20},{"c":18,"s":0,"f":3600.4,"y":-13.98},{"c":18,"s":0,"f":3670.6,"y":-9.12},{"c":18,"s":0,"f":3740.8,"y":-6.02},{"c":18,"s":0,"f":3834.4,"y":-3.1},{"c":18,"s":0,"f":3904.6,"y":-1.41},{"c":18,"s":0,"f":3974.8,"y":0},
{"c":18,"s":1,"f":3974.8,"y":0},{"c":18,"s":1,"f":4052.9,"y":-1.41},{"c":18,"s":1,"f":4130.9,"y":-3.1},{"c":18,"s":1,"f":4234.9,"y":-6.02},{"c":18,"s":1,"f":4312.9,"y":-9.12},{"c":18,"s":1,"f":4390.9,"y":-13.98},{"c":18,"s":1,"f":4442.9,"y":-20},{"c":18,"s":1,"f":4479.3,"y":-30.46},{"c":18,"s":1,"f":4489.7,"y":-40},
{"c":19,"s":0,"f":3980.0,"y":-40},{"c":19,"s":0,"f":3990.4,"y":-30.46},{"c":19,"s":0,"f":4026.8,"y":-20},{"c":19,"s":0,"f":4078.9,"y":-13.98},{"c":19,"s":0,"f":4156.9,"y":-9.12},{"c":19,"s":0,"f":4234.9,"y":-6.02},{"c":19,"s":0,"f":4338.9,"y":-3.1},{"c":19,"s":0,"f":4416.9,"y":-1.41},{"c":19,"s":0,"f":4494.9,"y":0},
{"c":19,"s":1,"f":4494.9,"y":0},{"c":19,"s":1,"f":4581.6,"y":-1.41},{"c":19,"s":1,"f":4668.3,"y":-3.1},{"c":19,"s":1,"f":4783.9,"y":-6.02},{"c":19,"s":1,"f":4870.6,"y":-9.12},{"c":19,"s":1,"f":4957.3,"y":-13.98},{"c":19,"s":1,"f":5015.1,"y":-20},{"c":19,"s":1,"f":5055.6,"y":-30.46},{"c":19,"s":1,"f":5067.1,"y":-40},
{"c":20,"s":0,"f":4500.7,"y":-40},{"c":20,"s":0,"f":4512.3,"y":-30.46},{"c":20,"s":0,"f":4552.7,"y":-20},{"c":20,"s":0,"f":4610.5,"y":-13.98},{"c":20,"s":0,"f":4697.2,"y":-9.12},{"c":20,"s":0,"f":4783.9,"y":-6.02},{"c":20,"s":0,"f":4899.5,"y":-3.1},{"c":20,"s":0,"f":4986.2,"y":-1.41},{"c":20,"s":0,"f":5072.9,"y":0},
{"c":20,"s":1,"f":5072.9,"y":0},{"c":20,"s":1,"f":5169.3,"y":-1.41},{"c":20,"s":1,"f":5265.6,"y":-3.1},{"c":20,"s":1,"f":5394.1,"y":-6.02},{"c":20,"s":1,"f":5490.4,"y":-9.12},{"c":20,"s":1,"f":5586.7,"y":-13.98},{"c":20,"s":1,"f":5651.0,"y":-20},{"c":20,"s":1,"f":5695.9,"y":-30.46},{"c":20,"s":1,"f":5708.8,"y":-40},
{"c":21,"s":0,"f":5079.3,"y":-40},{"c":21,"s":0,"f":5092.2,"y":-30.46},{"c":21,"s":0,"f":5137.2,"y":-20},{"c":21,"s":0,"f":5201.4,"y":-13.98},{"c":21,"s":0,"f":5297.7,"y":-9.12},{"c":21,"s":0,"f":5394.1,"y":-6.02},{"c":21,"s":0,"f":5522.5,"y":-3.1},{"c":21,"s":0,"f":5618.9,"y":-1.41},{"c":21,"s":0,"f":5715.2,"y":0},
{"c":21,"s":1,"f":5715.2,"y":0},{"c":21,"s":1,"f":5822.3,"y":-1.41},{"c":21,"s":1,"f":5929.3,"y":-3.1},{"c":21,"s":1,"f":6072.1,"y":-6.02},{"c":21,"s":1,"f":6179.1,"y":-9.12},{"c":21,"s":1,"f":6286.2,"y":-13.98},{"c":21,"s":1,"f":6357.6,"y":-20},{"c":21,"s":1,"f":6407.5,"y":-30.46},{"c":21,"s":1,"f":6421.8,"y":-40},
{"c":22,"s":0,"f":5722.3,"y":-40},{"c":22,"s":0,"f":5736.6,"y":-30.46},{"c":22,"s":0,"f":5786.6,"y":-20},{"c":22,"s":0,"f":5858.0,"y":-13.98},{"c":22,"s":0,"f":5965.0,"y":-9.12},{"c":22,"s":0,"f":6072.1,"y":-6.02},{"c":22,"s":0,"f":6214.8,"y":-3.1},{"c":22,"s":0,"f":6321.9,"y":-1.41},{"c":22,"s":0,"f":6428.9,"y":0},
{"c":22,"s":1,"f":6428.9,"y":0},{"c":22,"s":1,"f":6547.9,"y":-1.41},{"c":22,"s":1,"f":6666.9,"y":-3.1},{"c":22,"s":1,"f":6825.5,"y":-6.02},{"c":22,"s":1,"f":6944.5,"y":-9.12},{"c":22,"s":1,"f":7063.5,"y":-13.98},{"c":22,"s":1,"f":7142.8,"y":-20},{"c":22,"s":1,"f":7198.3,"y":-30.46},{"c":22,"s":1,"f":7214.2,"y":-40},
{"c":23,"s":0,"f":6436.9,"y":-40},{"c":23,"s":0,"f":6452.7,"y":-30.46},{"c":23,"s":0,"f":6508.3,"y":-20},{"c":23,"s":0,"f":6587.6,"y":-13.98},{"c":23,"s":0,"f":6706.5,"y":-9.12},{"c":23,"s":0,"f":6825.5,"y":-6.02},{"c":23,"s":0,"f":6984.2,"y":-3.1},{"c":23,"s":0,"f":7103.1,"y":-1.41},{"c":23,"s":0,"f":7222.1,"y":0},
{"c":23,"s":1,"f":7222.1,"y":0},{"c":23,"s":1,"f":7354.3,"y":-1.41},{"c":23,"s":1,"f":7486.5,"y":-3.1},{"c":23,"s":1,"f":7662.8,"y":-6.02},{"c":23,"s":1,"f":7795.0,"y":-9.12},{"c":23,"s":1,"f":7927.2,"y":-13.98},{"c":23,"s":1,"f":8015.4,"y":-20},{"c":23,"s":1,"f":8077.1,"y":-30.46},{"c":23,"s":1,"f":8094.7,"y":-40},
{"c":24,"s":0,"f":7230.9,"y":-40},{"c":24,"s":0,"f":7248.5,"y":-30.46},{"c":24,"s":0,"f":7310.2,"y":-20},{"c":24,"s":0,"f":7398.4,"y":-13.98},{"c":24,"s":0,"f":7530.6,"y":-9.12},{"c":24,"s":0,"f":7662.8,"y":-6.02},{"c":24,"s":0,"f":7839.1,"y":-3.1},{"c":24,"s":0,"f":7971.3,"y":-1.41},{"c":24,"s":0,"f":8103.5,"y":0},
{"c":24,"s":1,"f":8103.5,"y":0},{"c":24,"s":1,"f":8250.4,"y":-1.41},{"c":24,"s":1,"f":8397.3,"y":-3.1},{"c":24,"s":1,"f":8593.2,"y":-6.02},{"c":24,"s":1,"f":8740.1,"y":-9.12},{"c":24,"s":1,"f":8887.1,"y":-13.98},{"c":24,"s":1,"f":8985.0,"y":-20},{"c":24,"s":1,"f":9053.6,"y":-30.46},{"c":24,"s":1,"f":9073.2,"y":-40},
{"c":25,"s":0,"f":8113.3,"y":-40},{"c":25,"s":0,"f":8132.9,"y":-30.46},{"c":25,"s":0,"f":8201.4,"y":-20},{"c":25,"s":0,"f":8299.4,"y":-13.98},{"c":25,"s":0,"f":8446.3,"y":-9.12},{"c":25,"s":0,"f":8593.2,"y":-6.02},{"c":25,"s":0,"f":8789.1,"y":-3.1},{"c":25,"s":0,"f":8936.0,"y":-1.41},{"c":25,"s":0,"f":9082.9,"y":0},
{"c":25,"s":1,"f":9082.9,"y":0},{"c":25,"s":1,"f":9246.2,"y":-1.41},{"c":25,"s":1,"f":9409.5,"y":-3.1},{"c":25,"s":1,"f":9627.2,"y":-6.02},{"c":25,"s":1,"f":9790.4,"y":-9.12},{"c":25,"s":1,"f":9953.7,"y":-13.98},{"c":25,"s":1,"f":10062.5,"y":-20},{"c":25,"s":1,"f":10138.7,"y":-30.46},{"c":25,"s":1,"f":10160.5,"y":-40},
{"c":26,"s":0,"f":9093.8,"y":-40},{"c":26,"s":0,"f":9115.6,"y":-30.46},{"c":26,"s":0,"f":9191.8,"y":-20},{"c":26,"s":0,"f":9300.6,"y":-13.98},{"c":26,"s":0,"f":9463.9,"y":-9.12},{"c":26,"s":0,"f":9627.2,"y":-6.02},{"c":26,"s":0,"f":9844.8,"y":-3.1},{"c":26,"s":0,"f":10008.1,"y":-1.41},{"c":26,"s":0,"f":10171.4,"y":0},
{"c":26,"s":1,"f":10171.4,"y":0},{"c":26,"s":1,"f":10352.8,"y":-1.41},{"c":26,"s":1,"f":10534.2,"y":-3.1},{"c":26,"s":1,"f":10776.1,"y":-6.02},{"c":26,"s":1,"f":10957.6,"y":-9.12},{"c":26,"s":1,"f":11139.0,"y":-13.98},{"c":26,"s":1,"f":11260.0,"y":-20},{"c":26,"s":1,"f":11344.6,"y":-30.46},{"c":26,"s":1,"f":11368.8,"y":-40},
{"c":27,"s":0,"f":10183.5,"y":-40},{"c":27,"s":0,"f":10207.7,"y":-30.46},{"c":27,"s":0,"f":10292.3,"y":-20},{"c":27,"s":0,"f":10413.3,"y":-13.98},{"c":27,"s":0,"f":10594.7,"y":-9.12},{"c":27,"s":0,"f":10776.1,"y":-6.02},{"c":27,"s":0,"f":11018.0,"y":-3.1},{"c":27,"s":0,"f":11199.5,"y":-1.41},{"c":27,"s":0,"f":11380.9,"y":0},
{"c":27,"s":1,"f":11380.9,"y":0},{"c":27,"s":1,"f":11582.5,"y":-1.41},{"c":27,"s":1,"f":11784.1,"y":-3.1},{"c":27,"s":1,"f":12053.0,"y":-6.02},{"c":27,"s":1,"f":12254.6,"y":-9.12},{"c":27,"s":1,"f":12456.2,"y":-13.98},{"c":27,"s":1,"f":12590.6,"y":-20},{"c":27,"s":1,"f":12684.7,"y":-30.46},{"c":27,"s":1,"f":12711.6,"y":-40},
{"c":28,"s":0,"f":11394.3,"y":-40},{"c":28,"s":0,"f":11421.2,"y":-30.46},{"c":28,"s":0,"f":11515.3,"y":-20},{"c":28,"s":0,"f":11649.7,"y":-13.98},{"c":28,"s":0,"f":11851.3,"y":-9.12},{"c":28,"s":0,"f":12053.0,"y":-6.02},{"c":28,"s":0,"f":12321.8,"y":-3.1},{"c":28,"s":0,"f":12523.4,"y":-1.41},{"c":28,"s":0,"f":12725.0,"y":0},
{"c":28,"s":1,"f":12725.0,"y":0},{"c":28,"s":1,"f":12949.0,"y":-1.41},{"c":28,"s":1,"f":13173.1,"y":-3.1},{"c":28,"s":1,"f":13471.8,"y":-6.02},{"c":28,"s":1,"f":13695.9,"y":-9.12},{"c":28,"s":1,"f":13919.9,"y":-13.98},{"c":28,"s":1,"f":14069.3,"y":-20},{"c":28,"s":1,"f":14173.8,"y":-30.46},{"c":28,"s":1,"f":14203.7,"y":-40},
{"c":29,"s":0,"f":12739.9,"y":-40},{"c":29,"s":0,"f":12769.8,"y":-30.46},{"c":29,"s":0,"f":12874.4,"y":-20},{"c":29,"s":0,"f":13023.7,"y":-13.98},{"c":29,"s":0,"f":13247.8,"y":-9.12},{"c":29,"s":0,"f":13471.8,"y":-6.02},{"c":29,"s":0,"f":13770.6,"y":-3.1},{"c":29,"s":0,"f":13994.6,"y":-1.41},{"c":29,"s":0,"f":14218.6,"y":0},
{"c":29,"s":1,"f":14218.6,"y":0},{"c":29,"s":1,"f":14467.6,"y":-1.41},{"c":29,"s":1,"f":14716.6,"y":-3.1},{"c":29,"s":1,"f":15048.6,"y":-6.02},{"c":29,"s":1,"f":15297.5,"y":-9.12},{"c":29,"s":1,"f":15546.5,"y":-13.98},{"c":29,"s":1,"f":15712.5,"y":-20},{"c":29,"s":1,"f":15828.7,"y":-30.46},{"c":29,"s":1,"f":15861.9,"y":-40},
{"c":30,"s":0,"f":14235.2,"y":-40},{"c":30,"s":0,"f":14268.4,"y":-30.46},{"c":30,"s":0,"f":14384.6,"y":-20},{"c":30,"s":0,"f":14550.6,"y":-13.98},{"c":30,"s":0,"f":14799.6,"y":-9.12},{"c":30,"s":0,"f":15048.6,"y":-6.02},{"c":30,"s":0,"f":15380.5,"y":-3.1},{"c":30,"s":0,"f":15629.5,"y":-1.41},{"c":30,"s":0,"f":15878.5,"y":0},
{"c":30,"s":1,"f":15878.5,"y":0},{"c":30,"s":1,"f":16155.1,"y":-1.41},{"c":30,"s":1,"f":16431.8,"y":-3.1},{"c":30,"s":1,"f":16800.7,"y":-6.02},{"c":30,"s":1,"f":17077.4,"y":-9.12},{"c":30,"s":1,"f":17354.0,"y":-13.98},{"c":30,"s":1,"f":17538.5,"y":-20},{"c":30,"s":1,"f":17667.6,"y":-30.46},{"c":30,"s":1,"f":17704.5,"y":-40},
{"c":31,"s":0,"f":15896.9,"y":-40},{"c":31,"s":0,"f":15933.8,"y":-30.46},{"c":31,"s":0,"f":16062.9,"y":-20},{"c":31,"s":0,"f":16247.4,"y":-13.98},{"c":31,"s":0,"f":16524.0,"y":-9.12},{"c":31,"s":0,"f":16800.7,"y":-6.02},{"c":31,"s":0,"f":17169.6,"y":-3.1},{"c":31,"s":0,"f":17446.3,"y":-1.41},{"c":31,"s":0,"f":17722.9,"y":0},
{"c":31,"s":1,"f":17722.9,"y":0},{"c":31,"s":1,"f":18030.4,"y":-1.41},{"c":31,"s":1,"f":18337.9,"y":-3.1},{"c":31,"s":1,"f":18747.8,"y":-6.02},{"c":31,"s":1,"f":19055.2,"y":-9.12},{"c":31,"s":1,"f":19362.7,"y":-13.98},{"c":31,"s":1,"f":19567.7,"y":-20},{"c":31,"s":1,"f":19711.1,"y":-30.46},{"c":31,"s":1,"f":19752.1,"y":-40},
{"c":32,"s":0,"f":17743.4,"y":-40},{"c":32,"s":0,"f":17784.4,"y":-30.46},{"c":32,"s":0,"f":17927.9,"y":-20},{"c":32,"s":0,"f":18132.9,"y":-13.98},{"c":32,"s":0,"f":18440.3,"y":-9.12},{"c":32,"s":0,"f":18747.8,"y":-6.02},{"c":32,"s":0,"f":19157.7,"y":-3.1},{"c":32,"s":0,"f":19465.2,"y":-1.41},{"c":32,"s":0,"f":19772.6,"y":0},
{"c":32,"s":1,"f":19772.6,"y":0},{"c":32,"s":1,"f":20114.3,"y":-1.41},{"c":32,"s":1,"f":20456.0,"y":-3.1}
]
},
"vconcat":[
{"title":"Gammatone","width":1103,"height":109,"data":{"name":"g"},
 "mark":{"type":"line","interpolate":"monotone","clip":true,"strokeWidth":2},
 "encoding":{
  "x":{"field":"f","type":"quantitative","scale":{"domain":[105,20000],"nice":false,"zero":false},"axis":{"values":[2500,5000,7500,10000,12500,15000,17500,20000],"labels":false,"title":null}},
  "y":{"field":"y","type":"quantitative","scale":{"domain":[-40,3.2],"nice":false,"zero":false},"axis":{"values":[-40,-20,0],"format":"d","title":null}},
  "color":{"field":"c","type":"nominal","scale":{"domain":[1,2,3,4,5,6,7,8,9,10,11,12,13,14,15,16,17,18,19,20,21,22,23,24,25,26,27,28,29,30,31,32],"range":["#1f77b4","#ff7f0e","#2ca02c","#d62728","#9467bd","#8c564b","#e377c2","#7f7f7f","#bcbd22","#17becf"]},"legend":null}
 }},
{"title":"1/3 octave","width":1103,"height":109,"data":{"name":"o"},
 "mark":{"type":"line","interpolate":"monotone","clip":true,"strokeWidth":2},
 "encoding":{
  "x":{"field":"f","type":"quantitative","scale":{"domain":[105,20000],"nice":false,"zero":false},"axis":{"values":[2500,5000,7500,10000,12500,15000,17500,20000],"labels":false,"title":null}},
  "y":{"field":"y","type":"quantitative","scale":{"domain":[-40,3.2],"nice":false,"zero":false},"axis":{"values":[-40,-20,0],"format":"d","title":"Attenuation (dB)"}},
  "color":{"field":"c","type":"nominal","scale":{"domain":[1,2,3,4,5,6,7,8,9,10,11,12,13,14,15,16,17,18,19,20,21,22,23,24,25,26,27,28,29,30,31,32],"range":["#1f77b4","#ff7f0e","#2ca02c","#d62728","#9467bd","#8c564b","#e377c2","#7f7f7f","#bcbd22","#17becf"]},"legend":null}
 }},
{"title":"Mel-scale","width":1103,"height":109,"data":{"name":"m"},
 "mark":{"type":"line","interpolate":"monotone","clip":true,"strokeWidth":2},
 "encoding":{
  "x":{"field":"f","type":"quantitative","scale":{"domain":[105,20000],"nice":false,"zero":false},"axis":{"values":[2500,5000,7500,10000,12500,15000,17500,20000],"format":"d","title":"Frequency (Hz)"}},
  "y":{"field":"y","type":"quantitative","scale":{"domain":[-40,3.2],"nice":false,"zero":false},"axis":{"values":[-40,-20,0],"format":"d","title":null}},
  "color":{"field":"c","type":"nominal","scale":{"domain":[1,2,3,4,5,6,7,8,9,10,11,12,13,14,15,16,17,18,19,20,21,22,23,24,25,26,27,28,29,30,31,32],"range":["#1f77b4","#ff7f0e","#2ca02c","#d62728","#9467bd","#8c564b","#e377c2","#7f7f7f","#bcbd22","#17becf"]},"legend":null},
  "detail":{"field":"s","type":"nominal"}
 }}
],
"config":{
 "view":{"stroke":"#000000","strokeWidth":1},
 "font":"DejaVu Sans",
 "axis":{"grid":false,"domain":false,"ticks":true,"tickColor":"#000000","tickSize":4.9,"tickWidth":1,"labelFont":"DejaVu Sans","labelFontSize":14,"labelColor":"#000000","labelFlush":false,"labelOverlap":false,"titleFont":"DejaVu Sans","titleFontSize":14,"titleFontWeight":"normal","titleColor":"#000000"},
 "axisX":{"labelPadding":4.5,"titlePadding":4},
 "axisY":{"labelPadding":2.5,"titlePadding":7.6},
 "title":{"font":"DejaVu Sans","fontSize":16.7,"fontWeight":"normal","color":"#000000","offset":3.1,"baseline":"alphabetic"}
}
}
